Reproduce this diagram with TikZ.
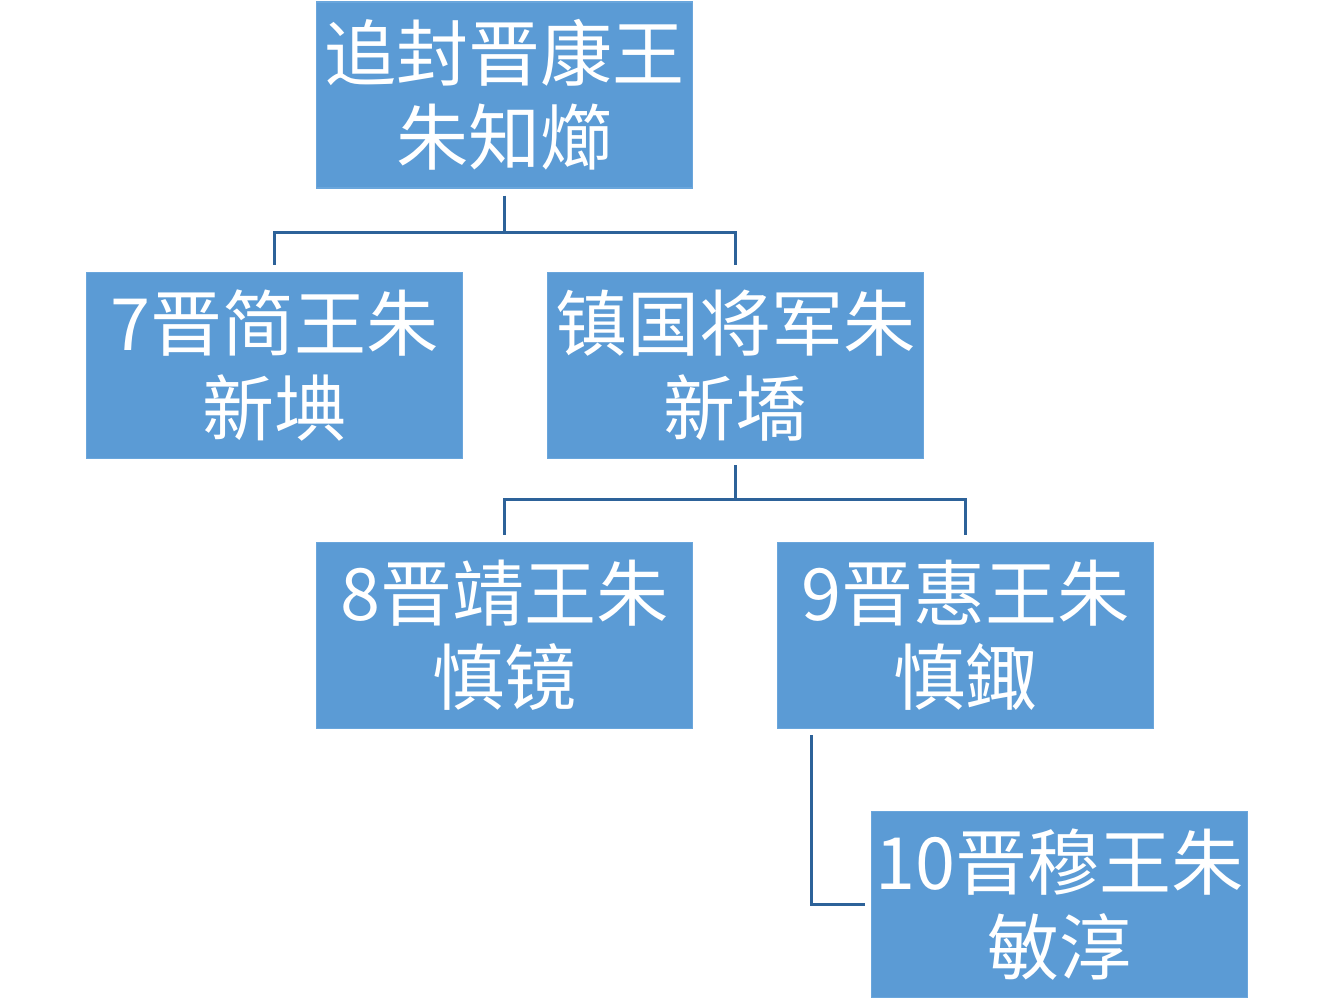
\documentclass[tikz,border=0pt]{standalone}
\usepackage{fontspec}
\newfontfamily\cjk{Noto Sans CJK SC}
\definecolor{boxblue}{HTML}{5B9BD5}
\definecolor{boxedge}{HTML}{6AA6DC}
\definecolor{linkblue}{HTML}{2D6299}
\tikzset{
  person/.style={rectangle, fill=boxblue, draw=boxedge, line width=0.8pt,
    minimum width=7.52cm, minimum height=3.72cm, inner sep=0pt,
    align=center, text=white, font=\cjk\fontsize{41}{48}\selectfont},
  link/.style={draw=linkblue, line width=1.6pt}
}
\begin{document}
\begin{tikzpicture}
\fill[white] (0,0) rectangle (26.68,-20);
\useasboundingbox (0,0) rectangle (26.68,-20);
\node[person] (top) at (10.09,-1.9)  {追封晋康王\\朱知㸅};
\node[person] (b7)  at (5.49,-7.31)  {7晋简王朱\\新㙉};
\node[person] (bz)  at (14.71,-7.31) {镇国将军朱\\新墧};
\node[person] (b8)  at (10.09,-12.71) {8晋靖王朱\\慎镜};
\node[person] (b9)  at (19.31,-12.71) {9晋惠王朱\\慎鋷};
\node[person] (b10) at (21.19,-18.09) {10晋穆王朱\\敏淳};
% level 1
\draw[link] ([yshift=-0.14cm]top.south) -- ++(0,-0.74) coordinate (j1);
\draw[link] ([yshift=0.14cm]b7.north) |- (j1) -| ([yshift=0.14cm]bz.north);
% level 2
\draw[link] ([yshift=-0.12cm]bz.south) -- ++(0,-0.68) coordinate (j2);
\draw[link] ([yshift=0.14cm]b8.north) |- (j2) -| ([yshift=0.14cm]b9.north);
% level 3
\draw[link] ([xshift=0.7cm,yshift=-0.12cm]b9.south west) |- ([xshift=-0.12cm]b10.west);
\end{tikzpicture}
\end{document}
